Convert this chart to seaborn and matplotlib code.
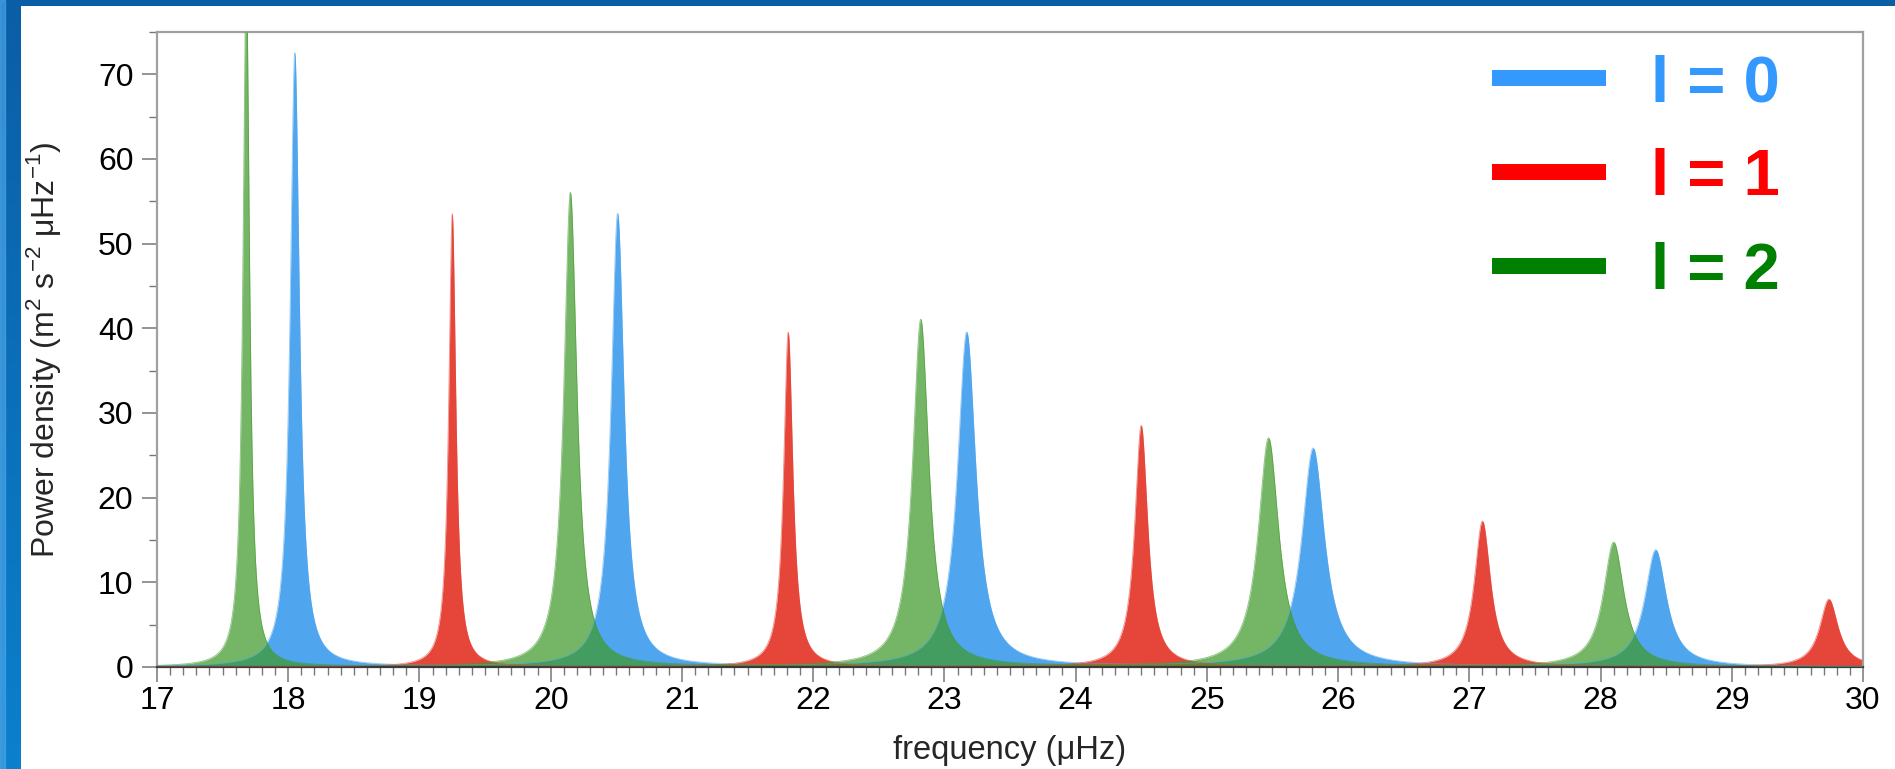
import numpy as np
import pandas as pd
import matplotlib
matplotlib.use("Agg")
import matplotlib.pyplot as plt
from matplotlib.lines import Line2D
from matplotlib.ticker import MultipleLocator
import seaborn as sns

# ---- data ----
degrees = ["l = 0", "l = 1", "l = 2"]
freq_l0 = [18.05, 20.51, 23.17, 25.81, 28.42]
height_l0 = [72.5, 53.5, 39.5, 25.8, 13.8]
width_l0 = [0.085, 0.12, 0.17, 0.21, 0.20]

freq_l1 = [19.25, 21.81, 24.50, 27.10, 29.74]
height_l1 = [53.5, 39.5, 28.5, 17.2, 8.0]
width_l1 = [0.065, 0.085, 0.12, 0.15, 0.17]

freq_l2 = [17.68, 20.15, 22.82, 25.47, 28.10]
height_l2 = [82.0, 56.0, 41.0, 27.0, 14.7]
width_l2 = [0.06, 0.12, 0.15, 0.19, 0.19]

x_ticks = list(range(17, 31))
y_ticks = [0, 10, 20, 30, 40, 50, 60, 70]

fill_colors = {"l = 0": "#4fa6ee", "l = 1": "#e6463a", "l = 2": "#3f9a2a"}
fill_alpha = {"l = 0": 1.0, "l = 1": 1.0, "l = 2": 0.72}
legend_colors = {"l = 0": "#3399ff", "l = 1": "#ff0000", "l = 2": "#008000"}

# ---- Lorentzian model spectrum built from the mode parameters ----
nu = np.linspace(17.0, 30.0, 6501)
def spectrum(freqs, heights, widths):
    p = np.zeros_like(nu)
    for f0, h, w in zip(freqs, heights, widths):
        p += h / (1.0 + (2.0 * (nu - f0) / w) ** 2)
    return p

frames = []
for deg, (fr, hs, ws) in zip(degrees, [(freq_l0, height_l0, width_l0),
                                        (freq_l1, height_l1, width_l1),
                                        (freq_l2, height_l2, width_l2)]):
    frames.append(pd.DataFrame({"frequency": nu, "power": spectrum(fr, hs, ws), "degree": deg}))
df = pd.concat(frames, ignore_index=True)

# ---- figure ----
sns.set_style("ticks")
plt.rcParams["font.family"] = ["Liberation Sans", "DejaVu Sans"]

W, H = 1895, 769
fig = plt.figure(figsize=(W / 100, H / 100), dpi=100)
fig.patch.set_facecolor("white")

# blue frame bands (top and left)
band_top = fig.add_axes([0, 1 - 6 / H, 1, 6 / H])
band_top.set_axis_off()
band_top.add_patch(plt.Rectangle((0, 0), 1, 1, color="#0a5ea6", transform=band_top.transAxes))
band_left = fig.add_axes([0, 0, 21 / W, 1])
band_left.set_axis_off()
grad = np.linspace(0, 1, 256).reshape(-1, 1)
cmap = matplotlib.colors.LinearSegmentedColormap.from_list("band", ["#0a80cc", "#0a5ea6"])
band_left.imshow(grad, aspect="auto", cmap=cmap, origin="lower", extent=[0, 1, 0, 1])
band_left.add_patch(plt.Rectangle((0, 0), 0.22, 1, color="#4aa3e6", alpha=0.7,
                                  transform=band_left.transAxes))

ax = fig.add_axes([157 / W, 1 - 667 / H, (1863 - 157) / W, (667 - 32) / H])
ax.set_facecolor("white")

for deg in ["l = 0", "l = 1", "l = 2"]:
    sub = df[df["degree"] == deg]
    ax.fill_between(sub["frequency"], 0, sub["power"], color=fill_colors[deg],
                    alpha=fill_alpha[deg], linewidth=0, zorder=2)
sns.lineplot(data=df, x="frequency", y="power", hue="degree", palette=fill_colors,
             linewidth=0.6, alpha=0.6, legend=False, ax=ax, zorder=3, sort=False,
             estimator=None)

ax.set_xlim(17, 30)
ax.set_ylim(0, 75)
ax.set_xticks(x_ticks)
ax.set_yticks(y_ticks)
ax.xaxis.set_minor_locator(MultipleLocator(0.1))
ax.yaxis.set_minor_locator(MultipleLocator(5))
ax.tick_params(axis="both", which="major", labelsize=23, length=11, width=1.1,
               color="#777777", labelcolor="black")
ax.tick_params(axis="x", which="major", pad=3)
ax.tick_params(axis="y", which="major", pad=6)
ax.tick_params(axis="both", which="minor", length=6, width=1.0, color="#777777")

for side in ["left", "top", "right"]:
    ax.spines[side].set_color("#a0a0a0")
    ax.spines[side].set_linewidth(1.6)
    ax.spines[side].set_visible(True)
ax.spines["bottom"].set_color("#3a3a3a")
ax.spines["bottom"].set_linewidth(1.6)

ax.set_xlabel("frequency (\u03bcHz)", fontsize=23.5, labelpad=13)
ax.set_ylabel("Power density (m$^{\\mathregular{2}}$ s$^{\\mathregular{-2}}$ \u03bcHz$^{\\mathregular{-1}}$)",
              fontsize=23, labelpad=25)

handles = [Line2D([0], [0], color=legend_colors[d], lw=11.5, solid_capstyle="butt") for d in degrees]
leg = ax.legend(handles, degrees, loc="upper right", bbox_to_anchor=(0.9666, 1.006),
                frameon=False, handlelength=1.74, handletextpad=0.69, labelspacing=0.52,
                prop={"size": 47, "weight": "bold"}, labelcolor="linecolor",
                borderaxespad=0.0)

fig.savefig("out.png", dpi=100, facecolor="white")
